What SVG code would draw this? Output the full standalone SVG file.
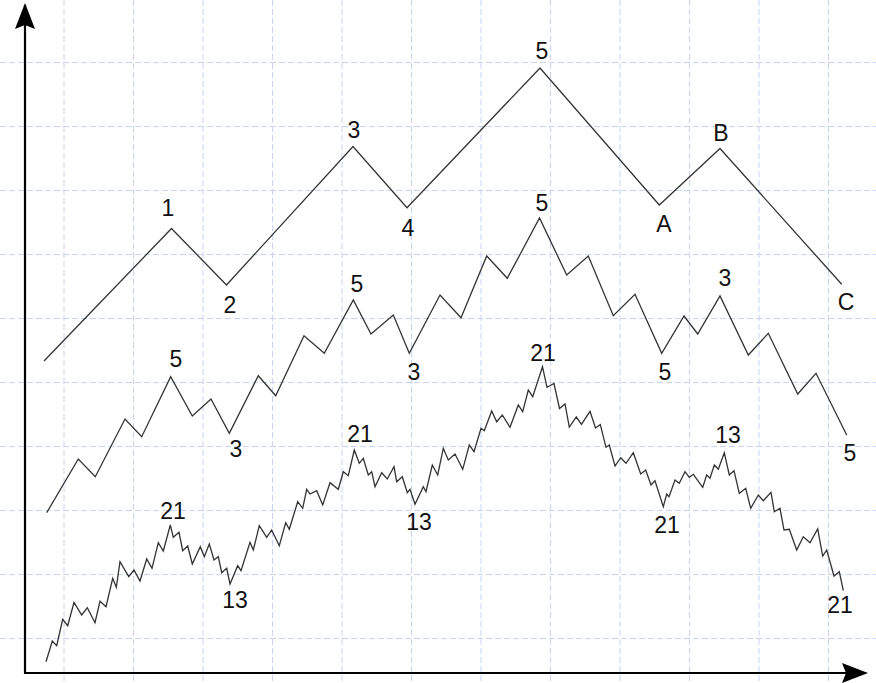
<svg xmlns="http://www.w3.org/2000/svg" width="876" height="683" viewBox="0 0 876 683">
<style>
.grid line{stroke:#c9d4f6;stroke-width:1;stroke-dasharray:6,3}
.wave{fill:none;stroke:#333;stroke-width:1.3;stroke-linejoin:miter}
.axis{stroke:#000;stroke-width:2.2;fill:none}
text{font-family:"Liberation Sans",Arial,sans-serif;font-size:23px;fill:#111;text-anchor:middle}
</style>
<defs>
<marker id="arr" viewBox="0 0 26 20" refX="24" refY="10" markerWidth="26" markerHeight="20" markerUnits="userSpaceOnUse" orient="auto">
<path d="M0,0 L26,10 L0,20 L4,10 Z" fill="#000"/>
</marker>
</defs>
<rect width="876" height="683" fill="#fff"/>
<g id="grid" class="grid">
<line x1="64" y1="0" x2="64" y2="683"/>
<line x1="133.5" y1="0" x2="133.5" y2="683"/>
<line x1="203" y1="0" x2="203" y2="683"/>
<line x1="272.5" y1="0" x2="272.5" y2="683"/>
<line x1="342" y1="0" x2="342" y2="683"/>
<line x1="411.5" y1="0" x2="411.5" y2="683"/>
<line x1="481" y1="0" x2="481" y2="683"/>
<line x1="550.5" y1="0" x2="550.5" y2="683"/>
<line x1="620" y1="0" x2="620" y2="683"/>
<line x1="689.5" y1="0" x2="689.5" y2="683"/>
<line x1="759" y1="0" x2="759" y2="683"/>
<line x1="828.5" y1="0" x2="828.5" y2="683"/>
<line x1="0" y1="62.5" x2="876" y2="62.5"/>
<line x1="0" y1="126.5" x2="876" y2="126.5"/>
<line x1="0" y1="190.5" x2="876" y2="190.5"/>
<line x1="0" y1="254.5" x2="876" y2="254.5"/>
<line x1="0" y1="318.5" x2="876" y2="318.5"/>
<line x1="0" y1="382.5" x2="876" y2="382.5"/>
<line x1="0" y1="446.5" x2="876" y2="446.5"/>
<line x1="0" y1="510.5" x2="876" y2="510.5"/>
<line x1="0" y1="574.5" x2="876" y2="574.5"/>
<line x1="0" y1="638.5" x2="876" y2="638.5"/>
</g>
<g id="axes">
<path class="axis" d="M25,673 L25,5" marker-end="url(#arr)"/>
<path class="axis" d="M24,673 L866,673" marker-end="url(#arr)"/>
</g>
<g id="connectors">
<polyline id="wave-primary" class="wave" points="44,361 171.5,228.5 226.5,285 353,146.5 407,207.7 540,68 659.3,205 720,148.5 841.7,284.3"/>
<polyline id="wave-intermediate" class="wave" points="46.7,512.7 78.3,459 95.3,476.7 125,419 141.7,436.7 170.7,376.7 192.3,416 211,399 229.3,433.3 258.3,375.7 275.7,395.7 304,335.7 324.3,353.3 353.3,300 371,334 393.3,315 409.3,353.3 440,295 461,317.7 486.7,256 507.3,278.3 539.5,218 566.7,275 588.3,256 613.3,315.7 635,294.3 661.7,353.3 684,316 697.7,334 720,296 748.3,355 768.3,333.3 797.7,394 816,373.3 846.7,435"/>
<polyline id="wave-minor" class="wave" points="46,661.7 52.3,641 56.7,645.7 62.7,619.3 67.7,625.7 74,602.3 81.7,615 87.3,607.7 95,622.7 100,601.3 106,606.7 112.7,578.3 116.3,587.3 120,561.7 128.7,576.7 134,570 140,581 146.7,559 152,568.3 158.3,542.7 163.3,551 170.3,525 173.3,537.3 179,532.3 182.7,550.7 187.7,546 192.3,564 200.3,546.7 204.3,556.7 209.3,544 214,560 218.3,556.7 221.7,572.7 226.7,568.3 230,584 237.7,565.7 241,570.7 250,542.3 253.3,550 259.3,525.7 266.7,537.3 271.7,530 279.3,545.7 285.7,522.7 289.3,529.3 297.7,501.7 302.7,508.3 306.7,489.3 310,494 316.7,490.7 322.7,505 330,482.7 338.3,489.3 343.3,471.7 348.3,475.7 354.3,450 359.3,463.3 363.3,458.3 368.3,475 371.7,471.7 375,486.7 381.7,472.7 387.3,479 394,466.7 396.7,481.7 402.3,476.7 407.3,492.7 410,489.3 415,504.3 423.3,486.7 426,491.7 432.3,465 437.7,475 443.3,448.3 448.3,460 455,454 462.7,469.3 469.3,445 474,451.7 481,428.3 484.3,430.7 491.7,411 496.7,421.7 502.3,415 510,427.3 518.3,405 522.7,411.7 528.3,390 532.7,396.7 542.5,366.7 547,387.3 554,383.5 559.5,408.5 565,404 569.3,427 576.3,417 581.5,424.3 590,411.3 595.5,428 600.3,424.5 606,447.3 609.3,445 615,466 620.7,457.7 626,463.3 633.3,452.7 640.7,474 645.7,470 651,485 655,480.7 663.3,506.7 666.7,494 669,496.7 675,480 679.3,483.3 685,471.7 689.3,477.3 693.3,474.3 702.7,487.3 706.7,475 710,478.3 714.3,465 718.3,469.3 724.3,452.7 729.3,475 734,470.7 739.3,493.3 745.7,488.3 750.7,508.3 758.3,495 763.3,500.7 771,492.3 774.3,511.7 780,508.3 784,530 789.3,529.3 796.7,550 803.3,536.7 810,542.7 817.7,529 822.7,556 826.7,550 834,576 839.3,571.7 843.3,590.7"/>
</g>
<g id="labels-primary">
<text x="168" y="216">1</text>
<text x="230" y="313">2</text>
<text x="354" y="138">3</text>
<text x="408" y="236">4</text>
<text x="542" y="59">5</text>
<text x="664" y="232">A</text>
<text x="721" y="141">B</text>
<text x="846" y="310">C</text>
</g>
<g id="labels-intermediate">
<text x="176" y="367">5</text>
<text x="236" y="457">3</text>
<text x="357" y="292">5</text>
<text x="414" y="380">3</text>
<text x="542" y="211">5</text>
<text x="665" y="380">5</text>
<text x="725" y="286">3</text>
<text x="850" y="461">5</text>
</g>
<g id="labels-minor">
<text x="173" y="519">21</text>
<text x="235" y="608">13</text>
<text x="360" y="442">21</text>
<text x="419" y="530">13</text>
<text x="543" y="361">21</text>
<text x="667" y="533">21</text>
<text x="728" y="443">13</text>
<text x="840" y="613">21</text>
</g>
</svg>
